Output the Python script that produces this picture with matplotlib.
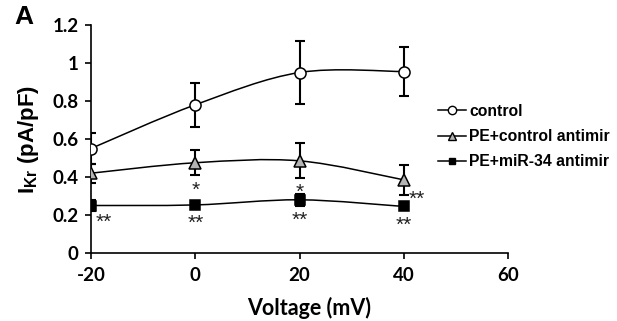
import matplotlib
matplotlib.use("Agg")
import matplotlib.pyplot as plt
import matplotlib.transforms as mtransforms
import numpy as np
from matplotlib.path import Path
from matplotlib.patches import PathPatch
from matplotlib.lines import Line2D

# data
voltage = [-20, 0, 20, 40]
control = [0.55, 0.78, 0.95, 0.955]
control_err = [0.08, 0.115, 0.167, 0.127]
pe_ctrl = [0.42, 0.475, 0.485, 0.385]
pe_ctrl_err = [0.05, 0.067, 0.092, 0.08]
pe_mir = [0.25, 0.253, 0.28, 0.245]
pe_mir_err = [0.03, 0.02, 0.03, 0.02]

labels = ["control", "PE+control antimir", "PE+miR-34 antimir"]

# significance marks: (x, y, text)
stars = [(0, 0.368, "*"), (20, 0.358, "*"), (42.5, 0.317, "**"),
         (-17.6, 0.20, "**"), (0, 0.191, "**"), (20, 0.21, "**"), (40, 0.184, "**")]

plt.rcParams["axes.unicode_minus"] = False
plt.rcParams["mathtext.fontset"] = "custom"
plt.rcParams["mathtext.rm"] = "Liberation Sans:bold"
plt.rcParams["mathtext.bf"] = "Liberation Sans:bold"


def smooth_path(x, y, t=1/6.):
	# excel-like smoothed line as cubic bezier
	pts = np.column_stack([x, y]).astype(float)
	n = len(pts)
	verts = [pts[0]]
	codes = [Path.MOVETO]
	for i in range(n - 1):
		p0 = pts[max(i - 1, 0)]
		p1 = pts[i]
		p2 = pts[i + 1]
		p3 = pts[min(i + 2, n - 1)]
		c1 = p1 + (p2 - p0) * t
		c2 = p2 - (p3 - p1) * t
		verts += [c1, c2, p2]
		codes += [Path.CURVE4] * 3
	return Path(verts, codes)


fig = plt.figure(figsize=(6.17, 3.21), dpi=100)
ax = fig.add_axes([91/617, 1 - 253/321, 417/617, 228/321])

series = [
	(control, control_err, dict(marker="o", mfc="white", mec="black", ms=8)),
	(pe_ctrl, pe_ctrl_err, dict(marker="^", mfc="#b4b4b4", mec="black", ms=8.5)),
	(pe_mir, pe_mir_err, dict(marker="s", mfc="black", mec="black", ms=6.5)),
]

for vals, err, style in series:
	ax.add_patch(PathPatch(smooth_path(voltage, vals), fill=False, lw=1.1,
		edgecolor="black", zorder=2))
	ax.errorbar(voltage, vals, yerr=err, fmt="none", ecolor="black",
		elinewidth=1.5, capsize=3.5, capthick=1.5, zorder=3)
	ax.plot(voltage, vals, ls="none", mew=1.1, zorder=4, **style)

# asterisk glyph sits high, so drop the baseline a bit
star_tr = mtransforms.offset_copy(ax.transData, fig=fig, x=0, y=-9, units="points")
for x, y, s in stars:
	ax.text(x, y, s, ha="center", va="baseline", fontsize=15,
		family="Liberation Sans", color="#222222", transform=star_tr)

ax.set_xlim(-20, 60)
ax.set_ylim(0, 1.2)
ax.set_xticks([-20, 0, 20, 40, 60])
ax.set_yticks([0, 0.2, 0.4, 0.6, 0.8, 1, 1.2])
ax.set_yticklabels(["0", "0.2", "0.4", "0.6", "0.8", "1", "1.2"])
for sp in ["top", "right"]:
	ax.spines[sp].set_visible(False)
for sp in ["left", "bottom"]:
	ax.spines[sp].set_linewidth(1.2)
ax.tick_params(direction="out", length=4, width=1.2, pad=5)
ax.tick_params(axis="x", pad=6)
for lab in ax.get_xticklabels() + ax.get_yticklabels():
	lab.set_family("Lato")
	lab.set_fontweight("bold")
	lab.set_fontsize(13.5)

ax.set_xlabel("Voltage (mV)", family="Lato", fontweight="bold", fontsize=15.5)
ax.xaxis.label.set_va("baseline")
ax.xaxis.set_label_coords(0.523, -0.272)
ax.set_ylabel(r"$\mathbf{I_{Kr}}$ (pA/pF)", family="Liberation Sans",
	fontweight="bold", fontsize=16, labelpad=8)

handles = [Line2D([], [], color="black", lw=1.1, **st) for _, _, st in series]
leg = fig.legend(handles, labels, loc="upper left", bbox_to_anchor=(430/617, 1 - 96/321),
	frameon=False, borderpad=0, handlelength=1.8, handletextpad=0.2, labelspacing=0.65,
	markerscale=0.75, prop={"family": "Liberation Sans", "weight": "bold", "size": 11.3})

fig.text(14/617, 1 - 5/321, "A", ha="left", va="top", fontsize=19,
	family="Liberation Sans", fontweight="bold")

fig.savefig("out.png", dpi=100)
